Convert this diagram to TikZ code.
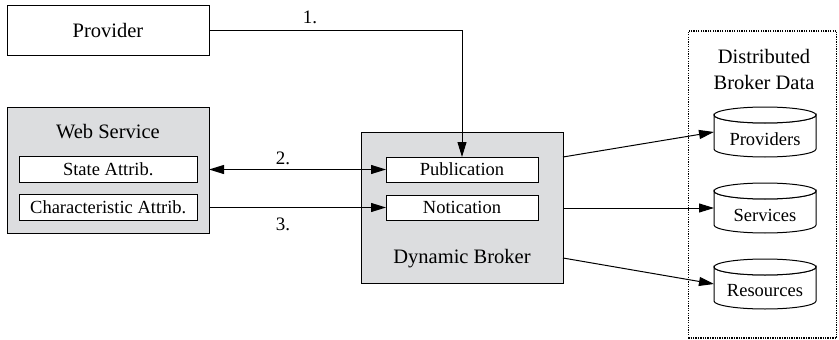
\documentclass[tikz,border=0pt]{standalone}
\usepackage{fontspec}
\setmainfont{Liberation Serif}
\usetikzlibrary{arrows.meta,calc}
\definecolor{boxgray}{RGB}{220,221,223}
\tikzset{
  box/.style={draw, line width=1pt, inner sep=0pt, outer sep=0pt, align=center},
  big/.style={font=\fontsize{20.5}{26}\selectfont},
  small/.style={font=\fontsize{18.5}{22}\selectfont},
  lbl/.style={font=\fontsize{19}{22}\selectfont, inner sep=0pt},
  arr/.style={line width=1pt, -{Triangle[length=15pt,width=9pt]}},
  darr/.style={line width=1pt, {Triangle[length=15pt,width=9pt]}-{Triangle[length=15pt,width=9pt]}},
  dbframe/.style={minimum width=102pt, minimum height=50pt, inner sep=0pt, outer sep=0pt},
  cylline/.style={draw, line width=1pt, fill=white},
}
% cylinder: name, x, y (center), text
\newcommand{\dbcyl}[4]{%
  \node[dbframe] (#1) at (#2,#3) {};
  \draw[cylline] (#2-51,#3-17) -- (#2-51,#3+17)
     arc[start angle=180, end angle=0, x radius=51, y radius=8]
     -- (#2+51,#3-17)
     arc[start angle=0, end angle=180, x radius=51, y radius=8] -- cycle;
  \draw[cylline] (#2,#3-17) ellipse[x radius=51, y radius=8];
  \node[small, inner sep=0pt] at (#2,#3+7) {#4};
}
\begin{document}
\begin{tikzpicture}[x=1pt,y=-1pt]
\useasboundingbox (0,0) rectangle (839,340);
% Provider
\node[box, big, minimum width=202pt, minimum height=50pt] (prov) at (108,30) {Provider};
% Web service
\node[box, fill=boxgray, minimum width=202pt, minimum height=126pt] (ws) at (108,170) {};
\node[big, inner sep=0pt] (wst) at (108,132) {Web Service};
\node[box, fill=white, small, minimum width=177.5pt, minimum height=25.5pt] (state) at (108.25,169.5) {State Attrib.};
\node[box, fill=white, small, minimum width=177.5pt, minimum height=25.5pt] (char) at (108.25,207.5) {Characteristic Attrib.};
% Broker
\node[box, fill=boxgray, minimum width=202pt, minimum height=151pt] (broker) at (462,207.5) {};
\node[box, fill=white, small, minimum width=152pt, minimum height=25pt] (pub) at (462,169.5) {Publication};
\node[box, fill=white, small, minimum width=152pt, minimum height=25pt] (note) at (462,207.5) {Notication};
\node[big, inner sep=0pt] (brt) at (462,259) {Dynamic Broker};
% Distributed data
\node[draw, line width=1.3pt, dash pattern=on 1.3pt off 1.1pt, minimum width=148.5pt, minimum height=307pt, inner sep=0pt, outer sep=0pt] (dist) at (762.5,184.5) {};
\node[big, inner sep=0pt, align=center] (distt) at (764,69) {Distributed\\Broker Data};
\dbcyl{provs}{765}{132}{Providers}
\dbcyl{servs}{765}{208}{Services}
\dbcyl{res}{765}{284}{Resources}
% connectors
\draw[arr] (prov.east) -| (pub.north);
\node[lbl] (l1) at (310,17) {1.};
\draw[darr] (state.east -| ws.east) -- (pub.west);
\node[lbl] (l2) at (283,158) {2.};
\draw[arr] (char.east -| ws.east) -- (note.west);
\node[lbl] (l3) at (283,224) {3.};
\coordinate (b1) at ($(broker.north east)+(0,25)$);
\coordinate (b3) at ($(broker.south east)+(0,-25)$);
\draw[arr] (b1) -- (provs.west);
\draw[arr] (servs.west -| broker.east) -- (servs.west);
\draw[arr] (b3) -- (res.west);
\end{tikzpicture}
\end{document}
